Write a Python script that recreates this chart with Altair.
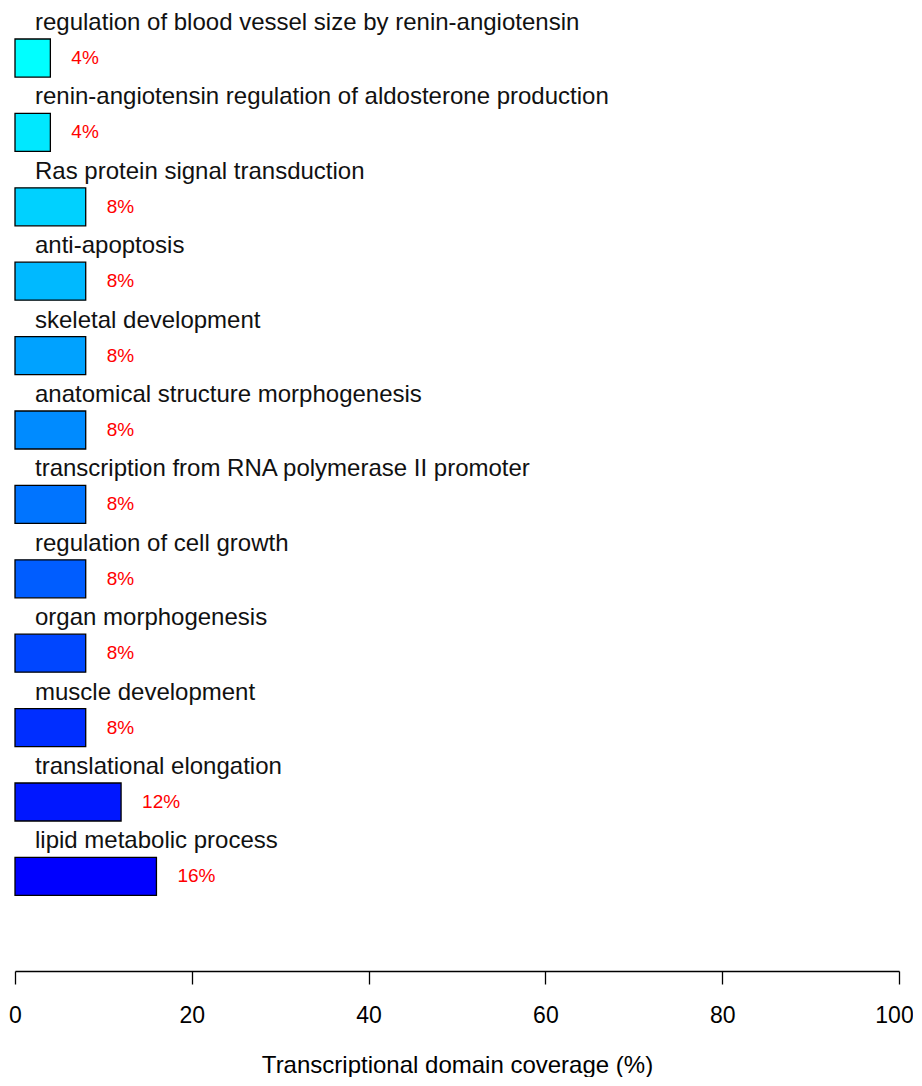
import altair as alt
import pandas as pd

categories = [
    "regulation of blood vessel size by renin-angiotensin",
    "renin-angiotensin regulation of aldosterone production",
    "Ras protein signal transduction",
    "anti-apoptosis",
    "skeletal development",
    "anatomical structure morphogenesis",
    "transcription from RNA polymerase II promoter",
    "regulation of cell growth",
    "organ morphogenesis",
    "muscle development",
    "translational elongation",
    "lipid metabolic process",
]
coverage = [4, 4, 8, 8, 8, 8, 8, 8, 8, 8, 12, 16]
pct_labels = ["4%", "4%", "8%", "8%", "8%", "8%", "8%", "8%", "8%", "8%", "12%", "16%"]
x_ticks = [0, 20, 40, 60, 80, 100]
palette = ["#00FFFF", "#00E8FF", "#00D1FF", "#00B9FF", "#00A2FF", "#008BFF",
           "#0074FF", "#005DFF", "#0046FF", "#002EFF", "#0017FF", "#0000FF"]

df = pd.DataFrame({"category": categories, "coverage": coverage, "label": pct_labels})

FONT = "Liberation Sans"

y = alt.Y("category:N", sort=categories,
          scale=alt.Scale(paddingInner=0.4892, paddingOuter=0.7165, align=0.291, round=False),
          axis=None)

x = alt.X("coverage:Q",
          scale=alt.Scale(domain=[0, 100], nice=False, zero=True),
          axis=alt.Axis(values=x_ticks, title="Transcriptional domain coverage (%)",
                        tickSize=13, tickColor="black", domainColor="black",
                        tickWidth=1.3, domainWidth=1.3, grid=False,
                        labelFontSize=23, labelFont=FONT, labelColor="black",
                        labelPadding=20, labelFlush=False,
                        labelOffset=alt.condition("datum.value == 100", alt.value(-5), alt.value(0)),
                        titleFontSize=24, titleFont=FONT, titleFontWeight="normal",
                        titleColor="black", titlePadding=26))

bars = alt.Chart(df).mark_bar(stroke="black", strokeWidth=1.3).encode(
    x=x, y=y,
    color=alt.Color("category:N", scale=alt.Scale(domain=categories, range=palette), legend=None),
)

names = alt.Chart(df).mark_text(align="left", baseline="alphabetic", dx=20, dy=-28,
                                fontSize=24, font=FONT, color="#111111").encode(
    x=alt.datum(0), y=y, text="category:N")

pcts = alt.Chart(df).mark_text(align="left", baseline="middle", dx=21, dy=0,
                               fontSize=19, font=FONT, color="#FF0000").encode(
    x="coverage:Q", y=y, text="label:N")

chart = alt.layer(bars, names, pcts).properties(
    width=884, height=963,
    autosize=alt.AutoSizeParams(type="none"),
    padding={"left": 7, "top": 0, "right": 14, "bottom": 106},
).configure_view(stroke=None)

chart.save("out.html", embed_options={"renderer": "svg", "actions": False})
